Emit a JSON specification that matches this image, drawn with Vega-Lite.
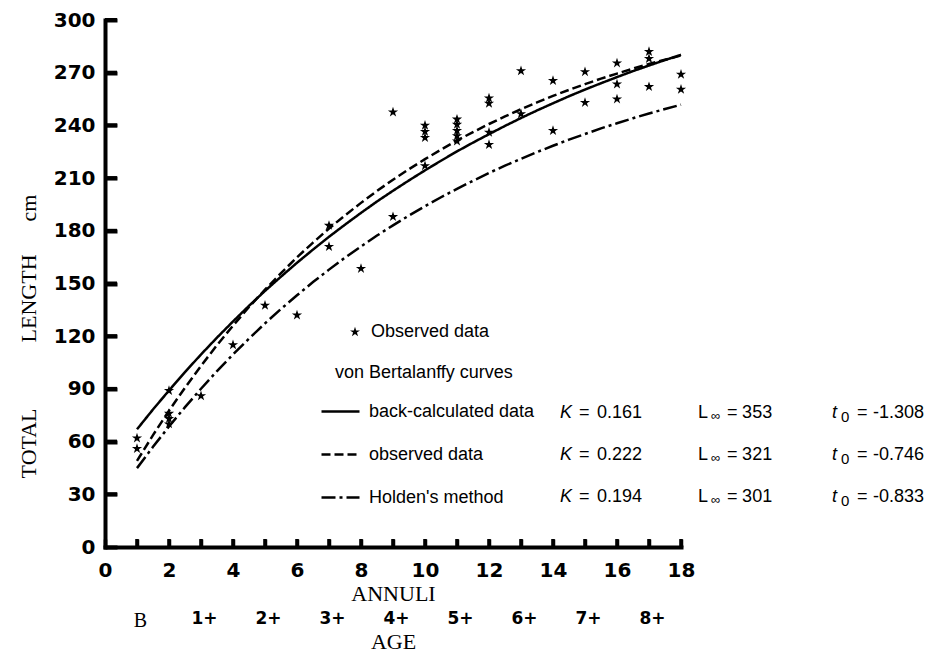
{
  "$schema": "https://vega.github.io/schema/vega-lite/v6.json",
  "width": 576,
  "height": 527,
  "autosize": {"type": "none"},
  "padding": {"left": 105, "top": 20, "right": 249, "bottom": 105},
  "background": "white",
  "config": {"view": {"stroke": null}, "text": {"font": "Liberation Sans", "color": "black"}},
  "datasets": {
    "curves": [
      {"series": "back-calculated data", "annuli": 1, "length": 67.0},
      {"series": "back-calculated data", "annuli": 1.5, "length": 78.3},
      {"series": "back-calculated data", "annuli": 2, "length": 89.1},
      {"series": "back-calculated data", "annuli": 2.5, "length": 99.6},
      {"series": "back-calculated data", "annuli": 3, "length": 109.6},
      {"series": "back-calculated data", "annuli": 3.5, "length": 119.2},
      {"series": "back-calculated data", "annuli": 4, "length": 128.4},
      {"series": "back-calculated data", "annuli": 4.5, "length": 137.3},
      {"series": "back-calculated data", "annuli": 5, "length": 145.8},
      {"series": "back-calculated data", "annuli": 5.5, "length": 153.9},
      {"series": "back-calculated data", "annuli": 6, "length": 161.8},
      {"series": "back-calculated data", "annuli": 6.5, "length": 169.3},
      {"series": "back-calculated data", "annuli": 7, "length": 176.6},
      {"series": "back-calculated data", "annuli": 7.5, "length": 183.5},
      {"series": "back-calculated data", "annuli": 8, "length": 190.2},
      {"series": "back-calculated data", "annuli": 8.5, "length": 196.7},
      {"series": "back-calculated data", "annuli": 9, "length": 202.8},
      {"series": "back-calculated data", "annuli": 9.5, "length": 208.7},
      {"series": "back-calculated data", "annuli": 10, "length": 214.4},
      {"series": "back-calculated data", "annuli": 10.5, "length": 219.9},
      {"series": "back-calculated data", "annuli": 11, "length": 225.2},
      {"series": "back-calculated data", "annuli": 11.5, "length": 230.2},
      {"series": "back-calculated data", "annuli": 12, "length": 235.0},
      {"series": "back-calculated data", "annuli": 12.5, "length": 239.7},
      {"series": "back-calculated data", "annuli": 13, "length": 244.2},
      {"series": "back-calculated data", "annuli": 13.5, "length": 248.5},
      {"series": "back-calculated data", "annuli": 14, "length": 252.6},
      {"series": "back-calculated data", "annuli": 14.5, "length": 256.6},
      {"series": "back-calculated data", "annuli": 15, "length": 260.4},
      {"series": "back-calculated data", "annuli": 15.5, "length": 264.0},
      {"series": "back-calculated data", "annuli": 16, "length": 267.5},
      {"series": "back-calculated data", "annuli": 16.5, "length": 270.9},
      {"series": "back-calculated data", "annuli": 17, "length": 274.1},
      {"series": "back-calculated data", "annuli": 17.5, "length": 277.2},
      {"series": "back-calculated data", "annuli": 18, "length": 280.2},
      {"series": "observed data", "annuli": 1, "length": 49.0},
      {"series": "observed data", "annuli": 1.5, "length": 63.7},
      {"series": "observed data", "annuli": 2, "length": 77.6},
      {"series": "observed data", "annuli": 2.5, "length": 90.7},
      {"series": "observed data", "annuli": 3, "length": 103.1},
      {"series": "observed data", "annuli": 3.5, "length": 114.9},
      {"series": "observed data", "annuli": 4, "length": 126.0},
      {"series": "observed data", "annuli": 4.5, "length": 136.6},
      {"series": "observed data", "annuli": 5, "length": 146.5},
      {"series": "observed data", "annuli": 5.5, "length": 155.9},
      {"series": "observed data", "annuli": 6, "length": 164.9},
      {"series": "observed data", "annuli": 6.5, "length": 173.3},
      {"series": "observed data", "annuli": 7, "length": 181.3},
      {"series": "observed data", "annuli": 7.5, "length": 188.8},
      {"series": "observed data", "annuli": 8, "length": 195.9},
      {"series": "observed data", "annuli": 8.5, "length": 202.7},
      {"series": "observed data", "annuli": 9, "length": 209.1},
      {"series": "observed data", "annuli": 9.5, "length": 215.1},
      {"series": "observed data", "annuli": 10, "length": 220.8},
      {"series": "observed data", "annuli": 10.5, "length": 226.2},
      {"series": "observed data", "annuli": 11, "length": 231.4},
      {"series": "observed data", "annuli": 11.5, "length": 236.2},
      {"series": "observed data", "annuli": 12, "length": 240.8},
      {"series": "observed data", "annuli": 12.5, "length": 245.1},
      {"series": "observed data", "annuli": 13, "length": 249.2},
      {"series": "observed data", "annuli": 13.5, "length": 253.1},
      {"series": "observed data", "annuli": 14, "length": 256.8},
      {"series": "observed data", "annuli": 14.5, "length": 260.2},
      {"series": "observed data", "annuli": 15, "length": 263.5},
      {"series": "observed data", "annuli": 15.5, "length": 266.6},
      {"series": "observed data", "annuli": 16, "length": 269.5},
      {"series": "observed data", "annuli": 16.5, "length": 272.3},
      {"series": "observed data", "annuli": 17, "length": 275.0},
      {"series": "observed data", "annuli": 17.5, "length": 277.4},
      {"series": "observed data", "annuli": 18, "length": 279.8},
      {"series": "Holden's method", "annuli": 1, "length": 44.9},
      {"series": "Holden's method", "annuli": 1.5, "length": 57.0},
      {"series": "Holden's method", "annuli": 2, "length": 68.6},
      {"series": "Holden's method", "annuli": 2.5, "length": 79.6},
      {"series": "Holden's method", "annuli": 3, "length": 90.1},
      {"series": "Holden's method", "annuli": 3.5, "length": 100.1},
      {"series": "Holden's method", "annuli": 4, "length": 109.6},
      {"series": "Holden's method", "annuli": 4.5, "length": 118.6},
      {"series": "Holden's method", "annuli": 5, "length": 127.3},
      {"series": "Holden's method", "annuli": 5.5, "length": 135.5},
      {"series": "Holden's method", "annuli": 6, "length": 143.3},
      {"series": "Holden's method", "annuli": 6.5, "length": 150.8},
      {"series": "Holden's method", "annuli": 7, "length": 157.9},
      {"series": "Holden's method", "annuli": 7.5, "length": 164.7},
      {"series": "Holden's method", "annuli": 8, "length": 171.1},
      {"series": "Holden's method", "annuli": 8.5, "length": 177.3},
      {"series": "Holden's method", "annuli": 9, "length": 183.1},
      {"series": "Holden's method", "annuli": 9.5, "length": 188.7},
      {"series": "Holden's method", "annuli": 10, "length": 194.0},
      {"series": "Holden's method", "annuli": 10.5, "length": 199.1},
      {"series": "Holden's method", "annuli": 11, "length": 203.9},
      {"series": "Holden's method", "annuli": 11.5, "length": 208.5},
      {"series": "Holden's method", "annuli": 12, "length": 212.9},
      {"series": "Holden's method", "annuli": 12.5, "length": 217.1},
      {"series": "Holden's method", "annuli": 13, "length": 221.0},
      {"series": "Holden's method", "annuli": 13.5, "length": 224.8},
      {"series": "Holden's method", "annuli": 14, "length": 228.4},
      {"series": "Holden's method", "annuli": 14.5, "length": 231.9},
      {"series": "Holden's method", "annuli": 15, "length": 235.1},
      {"series": "Holden's method", "annuli": 15.5, "length": 238.3},
      {"series": "Holden's method", "annuli": 16, "length": 241.2},
      {"series": "Holden's method", "annuli": 16.5, "length": 244.1},
      {"series": "Holden's method", "annuli": 17, "length": 246.8},
      {"series": "Holden's method", "annuli": 17.5, "length": 249.3},
      {"series": "Holden's method", "annuli": 18, "length": 251.8}
    ],
    "observed": [
      {"annuli": 1, "length": 62}, {"annuli": 1, "length": 56},
      {"annuli": 2, "length": 89}, {"annuli": 2, "length": 76}, {"annuli": 2, "length": 73}, {"annuli": 2, "length": 70},
      {"annuli": 3, "length": 86},
      {"annuli": 4, "length": 115},
      {"annuli": 5, "length": 137.5},
      {"annuli": 6, "length": 132},
      {"annuli": 7, "length": 183}, {"annuli": 7, "length": 171},
      {"annuli": 8, "length": 158.5},
      {"annuli": 9, "length": 247.5}, {"annuli": 9, "length": 188},
      {"annuli": 10, "length": 240}, {"annuli": 10, "length": 236.5}, {"annuli": 10, "length": 233}, {"annuli": 10, "length": 217},
      {"annuli": 11, "length": 243.5}, {"annuli": 11, "length": 240.5}, {"annuli": 11, "length": 237}, {"annuli": 11, "length": 234}, {"annuli": 11, "length": 231},
      {"annuli": 12, "length": 255.5}, {"annuli": 12, "length": 252.5}, {"annuli": 12, "length": 236}, {"annuli": 12, "length": 229},
      {"annuli": 13, "length": 271}, {"annuli": 13, "length": 246.5},
      {"annuli": 14, "length": 265.5}, {"annuli": 14, "length": 237},
      {"annuli": 15, "length": 270.5}, {"annuli": 15, "length": 253},
      {"annuli": 16, "length": 275.5}, {"annuli": 16, "length": 263.5}, {"annuli": 16, "length": 255},
      {"annuli": 17, "length": 282}, {"annuli": 17, "length": 278}, {"annuli": 17, "length": 262},
      {"annuli": 18, "length": 269}, {"annuli": 18, "length": 260.5}
    ],
    "yticks": [
      {"length": 30}, {"length": 60}, {"length": 90}, {"length": 120}, {"length": 150},
      {"length": 180}, {"length": 210}, {"length": 240}, {"length": 270}, {"length": 300}
    ],
    "xticks": [
      {"annuli": 1}, {"annuli": 2}, {"annuli": 3}, {"annuli": 4}, {"annuli": 5}, {"annuli": 6},
      {"annuli": 7}, {"annuli": 8}, {"annuli": 9}, {"annuli": 10}, {"annuli": 11}, {"annuli": 12},
      {"annuli": 13}, {"annuli": 14}, {"annuli": 15}, {"annuli": 16}, {"annuli": 17}, {"annuli": 18}
    ],
    "table": [
      {"series": "back-calculated data", "K": "0.161", "Linf": "353", "t0": "-1.308"},
      {"series": "observed data", "K": "0.222", "Linf": "321", "t0": "-0.746"},
      {"series": "Holden's method", "K": "0.194", "Linf": "301", "t0": "-0.833"}
    ],
    "ages": [
      {"age": "B"}, {"age": "1+"}, {"age": "2+"}, {"age": "3+"}, {"age": "4+"},
      {"age": "5+"}, {"age": "6+"}, {"age": "7+"}, {"age": "8+"}
    ]
  },
  "layer": [
    {
      "data": {"name": "curves"},
      "mark": {"type": "line", "color": "black", "strokeWidth": 2.5},
      "encoding": {
        "x": {
          "field": "annuli", "type": "quantitative",
          "scale": {"domain": [0, 18], "nice": false, "zero": false},
          "axis": {
            "orient": "bottom", "offset": -8, "domain": false,
            "values": [0,1,2,3,4,5,6,7,8,9,10,11,12,13,14,15,16,17,18],
            "labelExpr": "datum.value % 2 == 0 ? datum.label : ''",
            "grid": false, "ticks": true, "tickSize": 8, "tickWidth": 3.5, "tickColor": "black",
            "labelFont": "DejaVu Sans", "labelFontWeight": "bold", "labelFontSize": 20,
            "labelColor": "black", "labelPadding": 13, "labelFlush": false, "labelOverlap": false, "labelBound": false,
            "title": "ANNULI", "titleFont": "Liberation Serif", "titleFontSize": 22,
            "titleFontWeight": "normal", "titleColor": "black", "titlePadding": 3
          }
        },
        "y": {
          "field": "length", "type": "quantitative",
          "scale": {"domain": [0, 300], "nice": false, "zero": false},
          "axis": {
            "orient": "left", "offset": -12, "domain": false,
            "values": [0,30,60,90,120,150,180,210,240,270,300],
            "grid": false, "ticks": true, "tickSize": 12, "tickWidth": 4, "tickColor": "black",
            "labelFont": "DejaVu Sans", "labelFontWeight": "bold", "labelFontSize": 20,
            "labelColor": "black", "labelPadding": 10, "labelFlush": false, "labelOverlap": false, "labelBound": false,
            "title": "TOTAL\u00a0\u00a0\u00a0\u00a0\u00a0\u00a0\u00a0\u00a0\u00a0\u00a0\u00a0\u00a0LENGTH\u00a0\u00a0\u00a0\u00a0\u00a0\u00a0cm",
            "titleFont": "Liberation Serif", "titleFontSize": 22, "titleFontWeight": "normal", "titleColor": "black",
            "titleAngle": -90, "titleX": -89, "titleY": 316, "titleAlign": "center", "titleBaseline": "middle"
          }
        },
        "strokeDash": {
          "field": "series", "type": "nominal",
          "scale": {"domain": ["back-calculated data", "observed data", "Holden's method"], "range": [[1, 0], [9, 4], [14, 4, 3, 4]]},
          "legend": {
            "orient": "none", "legendX": 215, "legendY": 371, "title": null, "padding": 0,
            "symbolType": "stroke", "symbolSize": 1444, "symbolStrokeWidth": 2.5, "symbolStrokeColor": "black",
            "labelFont": "Liberation Sans", "labelFontSize": 18, "labelColor": "black", "labelOffset": 8,
            "rowPadding": 13, "labelLimit": 400
          }
        }
      }
    },
    {
      "data": {"name": "yticks"},
      "mark": {"type": "tick", "orient": "horizontal", "color": "black", "size": 12, "thickness": 4, "opacity": 1},
      "encoding": {
        "y": {"field": "length", "type": "quantitative", "scale": {"domain": [0, 300], "nice": false, "zero": false}, "axis": null},
        "x": {"datum": 0.1875, "type": "quantitative", "scale": {"domain": [0, 18], "nice": false, "zero": false}, "axis": null}
      }
    },
    {
      "data": {"name": "xticks"},
      "mark": {"type": "tick", "orient": "vertical", "color": "black", "size": 8, "thickness": 3.5, "opacity": 1},
      "encoding": {
        "x": {"field": "annuli", "type": "quantitative", "scale": {"domain": [0, 18], "nice": false, "zero": false}, "axis": null},
        "y": {"datum": 2.28, "type": "quantitative", "scale": {"domain": [0, 300], "nice": false, "zero": false}, "axis": null}
      }
    },
    {
      "data": {"name": "observed"},
      "mark": {"type": "point", "filled": true, "color": "black", "size": 115, "opacity": 1, "strokeWidth": 0},
      "encoding": {
        "x": {"field": "annuli", "type": "quantitative", "scale": {"domain": [0, 18], "nice": false, "zero": false},
              "axis": {"orient": "bottom", "domain": true, "domainWidth": 4, "domainColor": "black", "domainCap": "square", "ticks": false, "labels": false, "grid": false, "title": null}},
        "y": {"field": "length", "type": "quantitative", "scale": {"domain": [0, 300], "nice": false, "zero": false},
              "axis": {"orient": "left", "domain": true, "domainWidth": 4, "domainColor": "black", "domainCap": "square", "ticks": false, "labels": false, "grid": false, "title": null}},
        "shape": {
          "datum": "Observed data", "type": "nominal",
          "scale": {"range": ["M0,-1L0.225,-0.309L0.951,-0.309L0.363,0.118L0.588,0.809L0,0.382L-0.588,0.809L-0.363,0.118L-0.951,-0.309L-0.225,-0.309Z"]},
          "legend": {
            "orient": "none", "legendX": 241, "legendY": 303, "title": null, "padding": 0,
            "symbolSize": 110, "symbolFillColor": "black", "symbolStrokeWidth": 0,
            "labelFont": "Liberation Sans", "labelFontSize": 18, "labelColor": "black", "labelOffset": 7, "labelLimit": 400
          }
        }
      }
    },
    {
      "data": {"values": [{}]},
      "mark": {"type": "text", "text": "von Bertalanffy curves", "align": "left", "baseline": "middle", "font": "Liberation Sans", "fontSize": 18, "color": "black"},
      "encoding": {
        "x": {"datum": 7.19, "type": "quantitative", "scale": {"domain": [0, 18], "nice": false, "zero": false}, "axis": null},
        "y": {"datum": 99.1, "type": "quantitative", "scale": {"domain": [0, 300], "nice": false, "zero": false}, "axis": null}
      }
    },
    {"data": {"name": "table"},
     "mark": {"type": "text", "text": "K", "fontStyle": "italic", "align": "left", "baseline": "middle", "fontSize": 18},
     "encoding": {
       "x": {"datum": 14.22, "type": "quantitative", "scale": {"domain": [0, 18], "nice": false, "zero": false}, "axis": null},
       "y": {"field": "series", "type": "nominal", "scale": {"type": "point", "domain": ["back-calculated data", "observed data", "Holden's method"], "range": [393, 477], "padding": 0}, "axis": null}}},
    {"data": {"name": "table"},
     "mark": {"type": "text", "text": "=", "align": "left", "baseline": "middle", "fontSize": 18},
     "encoding": {
       "x": {"datum": 14.81, "type": "quantitative", "scale": {"domain": [0, 18], "nice": false, "zero": false}, "axis": null},
       "y": {"field": "series", "type": "nominal", "scale": {"type": "point", "domain": ["back-calculated data", "observed data", "Holden's method"], "range": [393, 477], "padding": 0}, "axis": null}}},
    {"data": {"name": "table"},
     "mark": {"type": "text", "align": "left", "baseline": "middle", "fontSize": 18},
     "encoding": {
       "x": {"datum": 15.375, "type": "quantitative", "scale": {"domain": [0, 18], "nice": false, "zero": false}, "axis": null},
       "y": {"field": "series", "type": "nominal", "scale": {"type": "point", "domain": ["back-calculated data", "observed data", "Holden's method"], "range": [393, 477], "padding": 0}, "axis": null},
       "text": {"field": "K"}}},
    {"data": {"name": "table"},
     "mark": {"type": "text", "text": "L", "align": "left", "baseline": "middle", "fontSize": 18},
     "encoding": {
       "x": {"datum": 18.53, "type": "quantitative", "scale": {"domain": [0, 18], "nice": false, "zero": false}, "axis": null},
       "y": {"field": "series", "type": "nominal", "scale": {"type": "point", "domain": ["back-calculated data", "observed data", "Holden's method"], "range": [393, 477], "padding": 0}, "axis": null}}},
    {"data": {"name": "table"},
     "mark": {"type": "text", "text": "∞", "align": "left", "baseline": "middle", "fontSize": 13, "dy": 3},
     "encoding": {
       "x": {"datum": 18.94, "type": "quantitative", "scale": {"domain": [0, 18], "nice": false, "zero": false}, "axis": null},
       "y": {"field": "series", "type": "nominal", "scale": {"type": "point", "domain": ["back-calculated data", "observed data", "Holden's method"], "range": [393, 477], "padding": 0}, "axis": null}}},
    {"data": {"name": "table"},
     "mark": {"type": "text", "text": "=", "align": "left", "baseline": "middle", "fontSize": 18},
     "encoding": {
       "x": {"datum": 19.44, "type": "quantitative", "scale": {"domain": [0, 18], "nice": false, "zero": false}, "axis": null},
       "y": {"field": "series", "type": "nominal", "scale": {"type": "point", "domain": ["back-calculated data", "observed data", "Holden's method"], "range": [393, 477], "padding": 0}, "axis": null}}},
    {"data": {"name": "table"},
     "mark": {"type": "text", "align": "left", "baseline": "middle", "fontSize": 18},
     "encoding": {
       "x": {"datum": 19.91, "type": "quantitative", "scale": {"domain": [0, 18], "nice": false, "zero": false}, "axis": null},
       "y": {"field": "series", "type": "nominal", "scale": {"type": "point", "domain": ["back-calculated data", "observed data", "Holden's method"], "range": [393, 477], "padding": 0}, "axis": null},
       "text": {"field": "Linf"}}},
    {"data": {"name": "table"},
     "mark": {"type": "text", "text": "t", "fontStyle": "italic", "align": "left", "baseline": "middle", "fontSize": 18},
     "encoding": {
       "x": {"datum": 22.72, "type": "quantitative", "scale": {"domain": [0, 18], "nice": false, "zero": false}, "axis": null},
       "y": {"field": "series", "type": "nominal", "scale": {"type": "point", "domain": ["back-calculated data", "observed data", "Holden's method"], "range": [393, 477], "padding": 0}, "axis": null}}},
    {"data": {"name": "table"},
     "mark": {"type": "text", "text": "0", "align": "left", "baseline": "middle", "fontSize": 15, "dy": 4},
     "encoding": {
       "x": {"datum": 23.0, "type": "quantitative", "scale": {"domain": [0, 18], "nice": false, "zero": false}, "axis": null},
       "y": {"field": "series", "type": "nominal", "scale": {"type": "point", "domain": ["back-calculated data", "observed data", "Holden's method"], "range": [393, 477], "padding": 0}, "axis": null}}},
    {"data": {"name": "table"},
     "mark": {"type": "text", "text": "=", "align": "left", "baseline": "middle", "fontSize": 18},
     "encoding": {
       "x": {"datum": 23.5, "type": "quantitative", "scale": {"domain": [0, 18], "nice": false, "zero": false}, "axis": null},
       "y": {"field": "series", "type": "nominal", "scale": {"type": "point", "domain": ["back-calculated data", "observed data", "Holden's method"], "range": [393, 477], "padding": 0}, "axis": null}}},
    {"data": {"name": "table"},
     "mark": {"type": "text", "align": "left", "baseline": "middle", "fontSize": 18},
     "encoding": {
       "x": {"datum": 24.0, "type": "quantitative", "scale": {"domain": [0, 18], "nice": false, "zero": false}, "axis": null},
       "y": {"field": "series", "type": "nominal", "scale": {"type": "point", "domain": ["back-calculated data", "observed data", "Holden's method"], "range": [393, 477], "padding": 0}, "axis": null},
       "text": {"field": "t0"}}},
    {
      "data": {"name": "ages"},
      "mark": {"type": "point", "opacity": 0},
      "encoding": {
        "x": {
          "field": "age", "type": "ordinal", "sort": null,
          "scale": {"type": "point", "padding": 0.5},
          "axis": {
            "orient": "bottom", "offset": 60, "domain": false, "ticks": false, "grid": false,
            "labelPadding": 3, "labelAngle": 0, "labelOffset": 3, "labelColor": "black",
            "labelFont": {"condition": {"test": "datum.value == 'B'", "value": "Liberation Serif"}, "value": "DejaVu Sans"},
            "labelFontWeight": {"condition": {"test": "datum.value == 'B'", "value": "normal"}, "value": "bold"},
            "labelFontSize": {"condition": {"test": "datum.value == 'B'", "value": 20}, "value": 17},
            "title": "AGE", "titleFont": "Liberation Serif", "titleFontSize": 22, "titleFontWeight": "normal",
            "titleColor": "black", "titlePadding": 1
          }
        }
      }
    }
  ],
  "resolve": {"scale": {"x": "independent", "y": "independent"}}
}
